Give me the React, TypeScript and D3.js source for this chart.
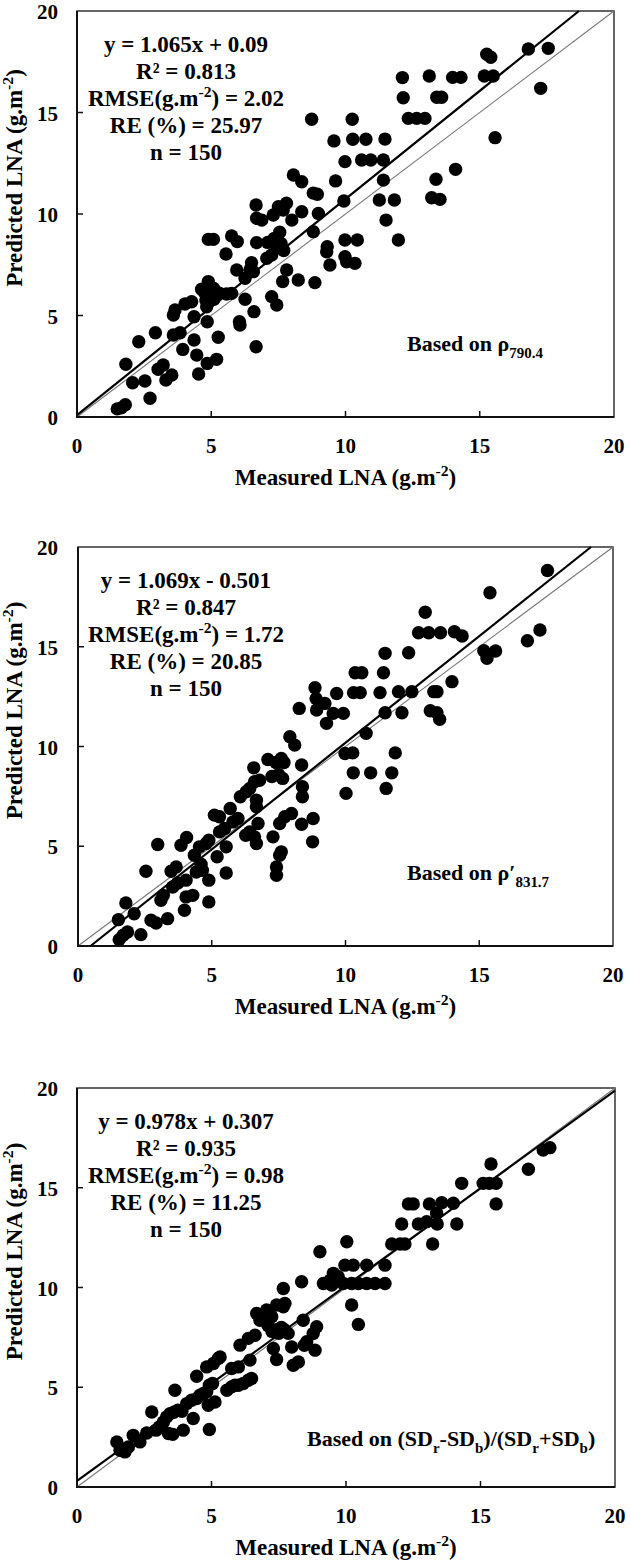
import React from "react";
import * as d3 from "d3";

// ---------- data ----------
const X_TICKS = [0, 5, 10, 15, 20];
const Y_TICKS = [0, 5, 10, 15, 20];

const P1_POINTS: [number, number][] = [
  [1.5, 0.4], [1.65, 0.45], [1.8, 0.6],
  [1.82, 2.6], [2.07, 1.69], [2.53, 1.77], [2.72, 0.92], [2.3, 3.71], [2.92, 4.15],
  [3.02, 2.35], [3.21, 2.56], [3.31, 1.82], [3.53, 2.07], [3.59, 5.02], [3.65, 5.27], [3.59, 4.04], [3.84, 4.15], [3.94, 3.33],
  [4.02, 5.57], [4.27, 5.68], [4.36, 3.79], [4.36, 4.94], [4.46, 3.05], [4.53, 2.12],
  [4.73, 6.17], [4.89, 6.67], [4.8, 5.76], [4.83, 5.43], [5.08, 6.34], [4.64, 6.29],
  [4.85, 2.64], [4.85, 4.69], [4.89, 8.75], [5.08, 8.75], [5.2, 2.84], [5.26, 3.93], [5.1, 5.8], [5.3, 6.1],
  [5.55, 8.03], [5.57, 6.06], [5.76, 6.09], [5.76, 8.92], [5.97, 8.64], [5.95, 7.24],
  [6.07, 4.53], [6.05, 4.69], [6.26, 5.8], [6.26, 6.83], [6.44, 7.24], [6.5, 7.6], [6.57, 7.16], [6.59, 5.19], [6.67, 3.46],
  [6.67, 10.44], [6.69, 9.79], [6.69, 8.59], [6.88, 9.7],
  [7.25, 5.93], [7.44, 5.52], [7.07, 7.82], [7.25, 7.98],
  [7.1, 8.6], [7.35, 8.8], [7.55, 9.1], [7.45, 8.4], [7.6, 8.55], [7.7, 8.2],
  [7.31, 9.95], [7.5, 10.36], [7.68, 10.2], [7.8, 10.53], [7.66, 6.67], [7.81, 7.24], [8.0, 9.7], [8.24, 6.75], [8.37, 10.11], [8.8, 9.13], [8.86, 6.62], [8.99, 10.03],
  [8.74, 14.67], [8.06, 11.92], [8.37, 11.59], [8.8, 11.03], [8.95, 10.97],
  [10.25, 14.67], [9.57, 13.6], [10.27, 13.68], [10.76, 13.68], [11.47, 13.69],
  [9.98, 12.58], [10.6, 12.66], [10.94, 12.66], [11.41, 12.66], [11.41, 11.67], [9.63, 11.63],
  [9.94, 10.64], [11.26, 10.69], [11.82, 10.69], [11.51, 9.7], [11.97, 8.72], [9.32, 8.39], [9.98, 8.72], [10.44, 8.72],
  [9.3, 8.14], [9.42, 7.49], [9.98, 7.9], [10.04, 7.65], [10.35, 7.57],
  [12.12, 16.72], [13.12, 16.8], [13.99, 16.73], [14.3, 16.73], [15.17, 16.8], [15.5, 16.8], [15.26, 17.87], [15.41, 17.72], [16.81, 18.13], [17.55, 18.16], [17.27, 16.19], [15.57, 13.76],
  [12.15, 15.73], [13.4, 15.75], [13.58, 15.75], [12.34, 14.71], [12.65, 14.71], [12.96, 14.71],
  [13.37, 11.71], [13.21, 10.8], [13.52, 10.72], [14.1, 12.2],
];

const P2_POINTS: [number, number][] = [
  [1.54, 0.32], [1.69, 0.54], [1.85, 0.7], [1.51, 1.32], [1.79, 2.16], [2.1, 1.62], [2.35, 0.57], [2.54, 3.75], [2.73, 1.29], [2.92, 1.15], [2.98, 5.09],
  [3.1, 2.29], [3.19, 2.54], [3.35, 1.37], [3.48, 3.75], [3.67, 3.96], [3.54, 2.96], [3.73, 3.16], [3.85, 5.05], [4.06, 5.44], [3.98, 1.79], [4.04, 3.3], [4.04, 2.46], [4.29, 2.54], [4.42, 3.71], [4.35, 4.55], [4.54, 4.97], [4.6, 4.1], [4.65, 3.8], [4.79, 5.14], [4.89, 3.3], [4.89, 2.21], [4.89, 5.3],
  [5.1, 6.56], [5.29, 6.48], [5.2, 4.47], [5.29, 5.72], [5.48, 5.89], [5.54, 4.97], [5.54, 3.66], [5.69, 6.89], [5.79, 6.22], [5.98, 6.39], [6.07, 7.48], [6.29, 7.73], [6.27, 5.55], [6.42, 5.72], [6.6, 5.47], [6.42, 7.9], [6.6, 8.23], [6.57, 8.93], [6.67, 7.31], [6.67, 6.98], [6.67, 5.14], [6.73, 6.14], [6.79, 8.31],
  [7.1, 9.35], [7.25, 8.5], [7.4, 9.2], [7.6, 9.4], [7.7, 9.2], [7.5, 8.6], [7.65, 8.4],
  [7.29, 5.47], [7.42, 3.96], [7.42, 3.55], [7.54, 4.55], [7.6, 4.72], [7.54, 6.14], [7.73, 6.48], [7.98, 6.64], [7.92, 10.49], [8.1, 10.07], [8.27, 11.91], [8.36, 9.07], [8.39, 7.98], [8.39, 7.48], [8.36, 6.1], [8.77, 5.22], [8.79, 6.39], [8.92, 11.83],
  [9.23, 12.16], [9.54, 11.66], [9.92, 11.66], [9.29, 11.16], [11.48, 11.69], [12.11, 11.69], [13.17, 11.79], [13.42, 11.69], [13.52, 11.36], [10.77, 10.66], [9.98, 9.65], [10.27, 9.68], [11.86, 9.68], [10.29, 8.68], [10.94, 8.68], [11.73, 8.68], [10.02, 7.65], [11.52, 7.9],
  [17.55, 18.82], [15.4, 17.71], [12.98, 16.73], [12.73, 15.7], [13.11, 15.7], [13.55, 15.7], [14.07, 15.75], [14.36, 15.54], [17.27, 15.84], [16.8, 15.3], [15.17, 14.8], [15.61, 14.79], [15.29, 14.42], [11.48, 14.67], [12.36, 14.7], [13.98, 13.25], [10.36, 13.7], [10.61, 13.7], [11.42, 13.7],
  [8.86, 12.95], [8.9, 12.4], [9.67, 12.66], [10.3, 12.7], [10.55, 12.7], [11.29, 12.7], [11.98, 12.75], [12.48, 12.75], [13.3, 12.75], [13.42, 12.75],
];

const P3_POINTS: [number, number][] = [
  [1.48, 2.26], [1.6, 1.84], [1.78, 1.76], [1.91, 2.01], [2.09, 2.59], [2.34, 2.26], [2.59, 2.71], [2.78, 3.76],
  [2.94, 2.85], [3.06, 3.01], [3.21, 3.26], [3.33, 3.51], [3.46, 3.68], [3.4, 2.68], [3.56, 2.64], [3.64, 4.85], [3.6, 3.75], [3.75, 3.85], [3.9, 3.8], [3.95, 2.85],
  [4.08, 4.18], [4.26, 4.35], [4.45, 4.43], [4.57, 4.6], [4.7, 4.69], [4.82, 4.77], [4.32, 3.43], [4.45, 5.55], [4.82, 6.02], [4.92, 2.88], [4.88, 4.1], [5.13, 4.26], [4.92, 5.1], [5.04, 5.19], [5.07, 6.19], [5.25, 6.44], [5.32, 6.52],
  [5.57, 4.85], [5.75, 5.02], [5.87, 5.1], [5.75, 5.94], [6.0, 6.02], [6.06, 7.11], [6.0, 5.1], [6.18, 5.19], [6.37, 5.35], [6.49, 5.44], [6.37, 7.45], [6.62, 7.61], [6.43, 6.36],
  [6.68, 8.7], [6.8, 8.36], [7.05, 8.87], [7.24, 8.53],
  [7.1, 8.1], [7.25, 7.8], [7.45, 7.9], [7.6, 8.0], [7.5, 7.7], [7.7, 7.9], [7.85, 7.7],
  [7.3, 6.94], [7.42, 6.39], [7.42, 9.12], [7.67, 9.03], [7.73, 9.2], [7.67, 9.95], [7.98, 7.02], [8.04, 6.1], [8.23, 6.27], [8.45, 7.1], [8.35, 10.29], [8.41, 8.36], [8.78, 7.69], [8.85, 6.86], [8.91, 8.03], [8.54, 7.28],
  [9.16, 10.2], [9.41, 10.37], [9.47, 10.12], [9.53, 10.71], [9.71, 10.54], [9.9, 10.2], [10.21, 10.2], [10.46, 10.2], [10.77, 10.2], [11.08, 10.2], [11.45, 10.2],
  [10.21, 9.12], [10.46, 8.15],
  [17.33, 16.89], [17.58, 17.01], [16.78, 15.93], [15.39, 16.19], [14.3, 15.22], [15.1, 15.22], [15.33, 15.22], [15.58, 15.22], [15.58, 14.19],
  [12.32, 14.19], [12.5, 14.19], [13.1, 14.19], [13.56, 14.25], [13.99, 14.22], [13.37, 13.72], [12.07, 13.18], [12.69, 13.18], [13.0, 13.3], [13.39, 13.18], [14.12, 13.18], [11.7, 12.18], [12.01, 12.18], [12.19, 12.18], [13.22, 12.18],
  [9.03, 11.79], [10.03, 12.29], [9.96, 11.12], [10.27, 11.12], [10.77, 11.12], [11.45, 11.12],
];

const FIT_SLOPES = [1.065, 1.069, 0.978];
const FIT_INTERCEPTS = [0.09, -0.501, 0.307];

const EQ_LINES = ["y = 1.065x + 0.09", "y = 1.069x - 0.501", "y = 0.978x + 0.307"];
const R2_LINES = ["R² = 0.813", "R² = 0.847", "R² = 0.935"];
const RMSE_VALUES = ["2.02", "1.72", "0.98"];
const RE_LINES = ["RE (%) = 25.97", "RE (%) = 20.85", "RE (%) = 11.25"];
const N_LINES = ["n = 150", "n = 150", "n = 150"];

type Seg = { t: string; sub?: boolean; sup?: boolean };
const BASED_ON: Seg[][] = [
  [{ t: "Based on ρ" }, { t: "790.4", sub: true }],
  [{ t: "Based on ρ′" }, { t: "831.7", sub: true }],
  [
    { t: "Based on (SD" }, { t: "r", sub: true }, { t: "-SD" }, { t: "b", sub: true },
    { t: ")/(SD" }, { t: "r", sub: true }, { t: "+SD" }, { t: "b", sub: true }, { t: ")" },
  ],
];

const X_TITLE: Seg[] = [{ t: "Measured LNA (g.m" }, { t: "-2", sup: true }, { t: ")" }];
const Y_TITLE: Seg[] = [{ t: "Predicted LNA (g.m" }, { t: "-2", sup: true }, { t: ")" }];

// ---------- layout ----------
const FONT = "'Liberation Serif', 'Times New Roman', serif";
const PANELS = [
  { top: 11, bottom: 417, left: 77, right: 614, basedX: 407, basedY: 351, points: P1_POINTS },
  { top: 547, bottom: 946, left: 78, right: 613, basedX: 407, basedY: 880, points: P2_POINTS },
  { top: 1088, bottom: 1487, left: 77, right: 615, basedX: 307, basedY: 1446, points: P3_POINTS },
];

function Rich({ segs, size }: { segs: Seg[]; size: number }) {
  const out: React.ReactNode[] = [];
  let shift = 0;
  segs.forEach((s, i) => {
    let target = 0;
    if (s.sub) target = size * 0.3;
    if (s.sup) target = -size * 0.38;
    const dy = target - shift;
    shift = target;
    out.push(
      <tspan key={i} dy={dy} fontSize={s.sub || s.sup ? size * 0.68 : size}>
        {s.t}
      </tspan>
    );
  });
  return <>{out}</>;
}

function Panel({ idx }: { idx: number }) {
  const p = PANELS[idx];
  const x = d3.scaleLinear().domain([0, 20]).range([p.left, p.right]);
  const y = d3.scaleLinear().domain([0, 20]).range([p.bottom, p.top]);
  const a = FIT_SLOPES[idx];
  const b = FIT_INTERCEPTS[idx];
  const x0 = Math.max(0, (0 - b) / a);
  const x1 = Math.min(20, (20 - b) / a);
  const line = d3
    .line<[number, number]>()
    .x((d) => x(d[0]))
    .y((d) => y(d[1]));
  const fitPath = line([
    [x0, a * x0 + b],
    [x1, a * x1 + b],
  ]) as string;
  const onePath = line([
    [0, 0],
    [20, 20],
  ]) as string;
  const cx = (p.left + p.right) / 2;
  const cy = (p.top + p.bottom) / 2;
  const annX = 186;
  const annY0 = p.top + 41;
  const lh = 27;
  return (
    <g fontFamily={FONT} fontWeight="bold" fill="#000">
      <rect x={p.left} y={p.top} width={p.right - p.left} height={p.bottom - p.top} fill="none" stroke="#333" strokeWidth={1.5} />
      <path d={onePath} stroke="#777" strokeWidth={1.1} fill="none" />
      <path d={fitPath} stroke="#000" strokeWidth={2.2} fill="none" />
      {p.points.map((d, i) => (
        <circle key={i} cx={x(d[0])} cy={y(d[1])} r={6.7} fill="#000" />
      ))}
      <line x1={p.left} x2={p.left} y1={p.top} y2={p.bottom + 1} stroke="#111" strokeWidth={2} />
      <line x1={p.left - 1} x2={p.right} y1={p.bottom} y2={p.bottom} stroke="#111" strokeWidth={2} />
      {X_TICKS.map((t) => (
        <g key={"xt" + t}>
          {t > 0 && t < 20 && <line x1={x(t)} x2={x(t)} y1={p.bottom} y2={p.bottom - 6} stroke="#111" strokeWidth={1.5} />}
          <text x={x(t)} y={p.bottom + 36} textAnchor="middle" fontSize={21}>
            {t}
          </text>
        </g>
      ))}
      {Y_TICKS.map((t) => (
        <g key={"yt" + t}>
          {t > 0 && t < 20 && <line x1={p.left} x2={p.left + 6} y1={y(t)} y2={y(t)} stroke="#111" strokeWidth={1.5} />}
          <text x={58} y={y(t) + 8} textAnchor="end" fontSize={21}>
            {t}
          </text>
        </g>
      ))}
      <text x={cx} y={p.bottom + 68} textAnchor="middle" fontSize={23}>
        <Rich segs={X_TITLE} size={23} />
      </text>
      <text transform={`translate(22,${cy - 36}) rotate(-90)`} textAnchor="middle" fontSize={23}>
        <Rich segs={Y_TITLE} size={23} />
      </text>
      <g fontSize={23} textAnchor="middle">
        <text x={annX} y={annY0}>{EQ_LINES[idx]}</text>
        <text x={annX} y={annY0 + lh}>{R2_LINES[idx]}</text>
        <text x={annX} y={annY0 + lh * 2}>
          <Rich segs={[{ t: "RMSE(g.m" }, { t: "-2", sup: true }, { t: ") = " + RMSE_VALUES[idx] }]} size={23} />
        </text>
        <text x={annX} y={annY0 + lh * 3}>{RE_LINES[idx]}</text>
        <text x={annX} y={annY0 + lh * 4}>{N_LINES[idx]}</text>
      </g>
      <text x={p.basedX} y={p.basedY} fontSize={22}>
        <Rich segs={BASED_ON[idx]} size={22} />
      </text>
    </g>
  );
}

export default function App() {
  return (
    <svg
      width={630}
      height={1562}
      style={{ position: "absolute", left: 0, top: 0, display: "block", background: "#fff" }}
    >
      <rect x={0} y={0} width={630} height={1562} fill="#fff" />
      <Panel idx={0} />
      <Panel idx={1} />
      <Panel idx={2} />
    </svg>
  );
}
